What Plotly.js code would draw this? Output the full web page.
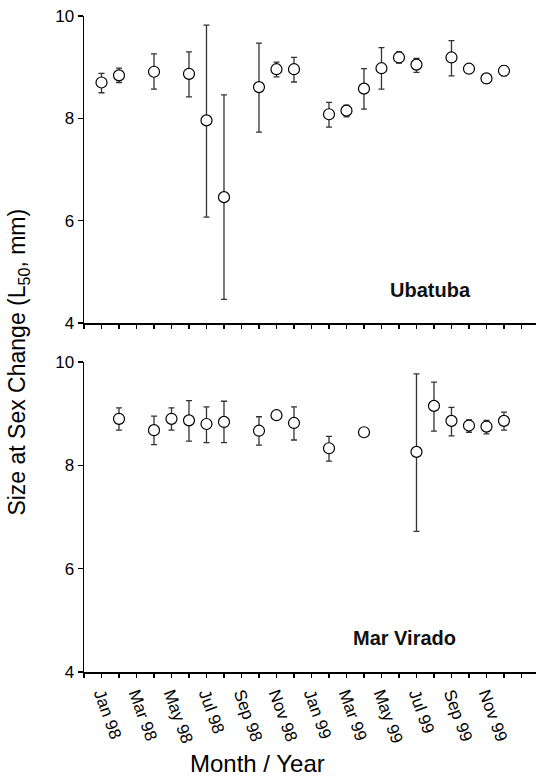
<!DOCTYPE html>
<html>
<head>
<meta charset="utf-8">
<script src="https://cdn.plot.ly/plotly-3.0.1.min.js"></script>
<style>html,body{margin:0;padding:0;background:#fff;}#chart{width:536px;height:776px;}</style>
</head>
<body>
<div id="chart"></div>
<script>
// Month index: 1 = Jan 98 ... 24 = Dec 99
const tickMonths = [1, 3, 5, 7, 9, 11, 13, 15, 17, 19, 21, 23];
const tickLabels = ["Jan 98", "Mar 98", "May 98", "Jul 98", "Sep 98", "Nov 98",
                    "Jan 99", "Mar 99", "May 99", "Jul 99", "Sep 99", "Nov 99"];

// Ubatuba
const ubaMonth = [1, 2, 4, 6, 7, 8, 10, 11, 12, 14, 15, 16, 17, 18, 19, 21, 22, 23, 24];
const ubaL50   = [8.70, 8.84, 8.91, 8.87, 7.96, 6.46, 8.61, 8.96, 8.96, 8.08, 8.15, 8.58, 8.98, 9.19, 9.05, 9.19, 8.97, 8.78, 8.93];
const ubaUpper = [8.88, 8.98, 9.26, 9.30, 9.82, 8.46, 9.47, 9.10, 9.19, 8.31, 8.26, 8.97, 9.38, 9.30, 9.17, 9.52, 9.05, 8.87, 9.03];
const ubaLower = [8.50, 8.70, 8.57, 8.42, 6.07, 4.46, 7.73, 8.81, 8.71, 7.83, 8.03, 8.18, 8.57, 9.08, 8.90, 8.83, 8.89, 8.69, 8.83];

// Mar Virado
const mvMonth = [2, 4, 5, 6, 7, 8, 10, 11, 12, 14, 16, 19, 20, 21, 22, 23, 24];
const mvL50   = [8.90, 8.68, 8.90, 8.87, 8.80, 8.84, 8.67, 8.97, 8.82, 8.33, 8.64, 8.26, 9.15, 8.86, 8.77, 8.75, 8.86];
const mvUpper = [9.11, 8.95, 9.11, 9.25, 9.13, 9.24, 8.94, 9.02, 9.13, 8.56, 8.69, 9.77, 9.61, 9.12, 8.88, 8.87, 9.03];
const mvLower = [8.68, 8.40, 8.68, 8.47, 8.44, 8.44, 8.39, 8.92, 8.49, 8.08, 8.59, 6.72, 8.66, 8.57, 8.64, 8.61, 8.68];

const FONT = "Liberation Sans, Arial, Helvetica, sans-serif";

function trace(x, y, up, lo, xa, ya) {
  return {
    x: x, y: y, xaxis: xa, yaxis: ya, type: 'scatter', mode: 'markers',
    marker: {symbol: 'circle', size: 11, color: '#ffffff', line: {color: '#000000', width: 1.2}},
    error_y: {type: 'data', symmetric: false,
      array: up.map((v, i) => v - y[i]),
      arrayminus: lo.map((v, i) => y[i] - v),
      color: '#333333', thickness: 1.3, width: 3},
    showlegend: false, hoverinfo: 'skip', cliponaxis: false
  };
}

const data = [
  trace(ubaMonth, ubaL50, ubaUpper, ubaLower, 'x', 'y'),
  trace(mvMonth, mvL50, mvUpper, mvLower, 'x2', 'y2')
];

function xAxis(anchor, showLabels) {
  return {
    anchor: anchor, range: [0, 25.83], showgrid: false, zeroline: false,
    showline: true, linecolor: '#000', linewidth: 1.5,
    tickmode: 'array', tickvals: tickMonths, ticktext: tickLabels,
    showticklabels: showLabels, tickangle: 70,
    ticks: 'outside', ticklen: 4, tickwidth: 1.3, tickcolor: '#000',
    tickfont: {family: FONT, size: 17, color: '#000'},
    minor: {tickmode: 'linear', tick0: 0, dtick: 1, ticks: 'outside', ticklen: 4, tickwidth: 1.3, tickcolor: '#000', showgrid: false}
  };
}
function yAxis(anchor, domain) {
  return {
    anchor: anchor, domain: domain, range: [4, 10], showgrid: false, zeroline: false,
    showline: true, linecolor: '#000', linewidth: 1.5,
    tickmode: 'array', tickvals: [4, 6, 8, 10],
    ticks: 'outside', ticklen: 5, tickwidth: 1.3, tickcolor: '#000',
    tickfont: {family: FONT, size: 17, color: '#000'}
  };
}

const layout = {
  width: 536, height: 776,
  margin: {l: 84, r: 0, t: 16, b: 104},
  paper_bgcolor: '#fff', plot_bgcolor: '#fff',
  font: {family: FONT, color: '#000'},
  xaxis: xAxis('y', false),
  yaxis: yAxis('x', [0.532, 1]),
  xaxis2: xAxis('y2', true),
  yaxis2: yAxis('x2', [0, 0.4726]),
  annotations: [
    {text: '<b>Ubatuba</b>', xref: 'x', yref: 'y', x: 19.8, y: 4.65, showarrow: false,
     font: {family: FONT, size: 20, color: '#111'}},
    {text: '<b>Mar Virado</b>', xref: 'x2', yref: 'y2', x: 18.3, y: 4.65, showarrow: false,
     font: {family: FONT, size: 20, color: '#111'}},
    {text: 'Size at Sex Change (L<sub>50</sub>, mm)', xref: 'paper', yref: 'paper',
     x: -0.144, y: 0.473, xanchor: 'center', yanchor: 'middle', textangle: -90, showarrow: false,
     font: {family: FONT, size: 23, color: '#000'}},
    {text: 'Month / Year', xref: 'paper', yref: 'paper', x: 0.384, y: -0.139,
     xanchor: 'center', yanchor: 'middle', showarrow: false,
     font: {family: FONT, size: 24, color: '#000'}}
  ]
};

Plotly.newPlot('chart', data, layout, {displayModeBar: false, staticPlot: true});
</script>
</body>
</html>
